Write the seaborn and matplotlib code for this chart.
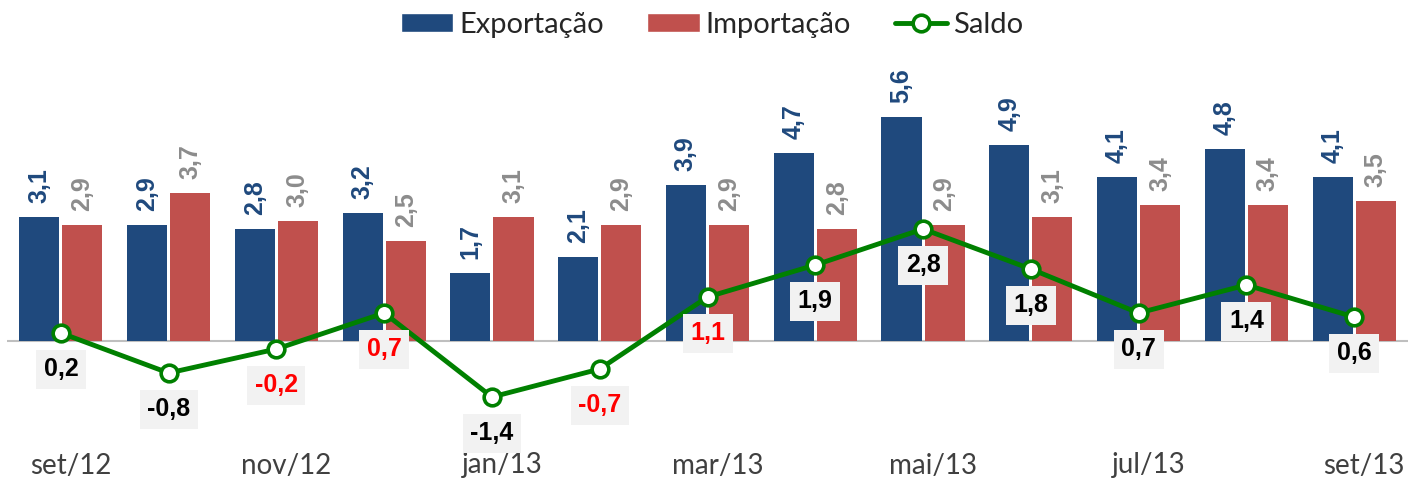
import numpy as np
import pandas as pd
import matplotlib
matplotlib.use("Agg")
import matplotlib.pyplot as plt
import matplotlib.transforms as mtransforms
import seaborn as sns
from matplotlib.patches import Patch
from matplotlib.lines import Line2D

# dados (US$ bilhões)
meses = ["set/12", "out/12", "nov/12", "dez/12", "jan/13", "fev/13", "mar/13",
         "abr/13", "mai/13", "jun/13", "jul/13", "ago/13", "set/13"]
exportacao = [3.1, 2.9, 2.8, 3.2, 1.7, 2.1, 3.9, 4.7, 5.6, 4.9, 4.1, 4.8, 4.1]
importacao = [2.9, 3.7, 3.0, 2.5, 3.1, 2.9, 2.9, 2.8, 2.9, 3.1, 3.4, 3.4, 3.5]
saldo = [0.2, -0.8, -0.2, 0.7, -1.4, -0.7, 1.1, 1.9, 2.8, 1.8, 0.7, 1.4, 0.6]
meses_destaque = ["nov/12", "dez/12", "fev/13", "mar/13"]  # rótulos do saldo em vermelho

COR_EXP = "#1F497D"
COR_IMP = "#C0504D"
COR_SALDO = "#008000"

sns.set_style("white")
plt.rcParams["font.family"] = ["Lato", "DejaVu Sans"]

df = pd.DataFrame({"mes": meses, "Exportação": exportacao, "Importação": importacao})
df_long = df.melt(id_vars="mes", var_name="serie", value_name="valor")

fig = plt.figure(figsize=(14.08, 4.8), dpi=100)
ax = fig.add_axes([7 / 1408, 1 - 440 / 480, 1401 / 1408, 380 / 480])

sns.barplot(data=df_long, x="mes", y="valor", hue="serie",
            palette=[COR_EXP, COR_IMP], saturation=1, width=0.8, gap=0.07,
            edgecolor="none", linewidth=0, ax=ax, legend=False, zorder=2)

ax.axhline(0, color="#BFBFBF", lw=1.5, zorder=1.5)

x = np.arange(len(meses))
sns.lineplot(x=x, y=saldo, color=COR_SALDO, lw=3.5, marker="o", markersize=12,
             markerfacecolor="white", markeredgecolor=COR_SALDO, markeredgewidth=2.6,
             ax=ax, zorder=4)

# rótulos das barras
for cont, cor in zip(ax.containers, [COR_EXP, "#8C8C8C"]):
    for bar in cont:
        h = bar.get_height()
        ax.annotate(f"{h:.1f}".replace(".", ","),
                    (bar.get_x() + bar.get_width() / 2, h),
                    xytext=(0, 10), textcoords="offset points",
                    ha="center", va="bottom", rotation=90,
                    fontsize=18, fontweight="bold", color=cor,
                    family="Liberation Sans", zorder=5)

# rótulos do saldo
for i, (m, v) in enumerate(zip(meses, saldo)):
    cor = "#FF0000" if m in meses_destaque else "black"
    ax.annotate(f"{v:.1f}".replace(".", ","), (i, v),
                xytext=(0, -26), textcoords="offset points",
                ha="center", va="center", fontsize=18, fontweight="bold",
                color=cor, family="Liberation Sans", zorder=6,
                bbox=dict(boxstyle="square,pad=0.3", fc="#F2F2F2", ec="none"))

ax.set_xlim(-0.5, len(meses) - 0.5)
ax.set_ylim(-99 / 40, 281 / 40)
ax.set_xticks(x[::2])
ax.set_xticklabels(meses[::2])
ax.tick_params(axis="x", length=0, pad=9, labelsize=20, labelcolor="#404040")
# rótulos do eixo levemente deslocados para a direita, como no original
desloc = mtransforms.ScaledTranslation(10 / 100, 0, fig.dpi_scale_trans)
for lbl in ax.get_xticklabels():
    lbl.set_transform(lbl.get_transform() + desloc)
ax.set_yticks([])
ax.set_xlabel("")
ax.set_ylabel("")
sns.despine(ax=ax, left=True, bottom=True)

handles = [Patch(facecolor=COR_EXP, label="Exportação"),
           Patch(facecolor=COR_IMP, label="Importação"),
           Line2D([0], [0], color=COR_SALDO, lw=3.5, marker="o", markersize=12,
                  markerfacecolor="white", markeredgecolor=COR_SALDO,
                  markeredgewidth=2.6, label="Saldo")]
fig.legend(handles=handles, loc="center", bbox_to_anchor=(712 / 1408, 1 - 25 / 480),
           ncol=3, frameon=False, fontsize=21, handlelength=1.8, handleheight=0.6,
           handletextpad=0.2, columnspacing=1.5)

fig.savefig("out.png", dpi=100)
